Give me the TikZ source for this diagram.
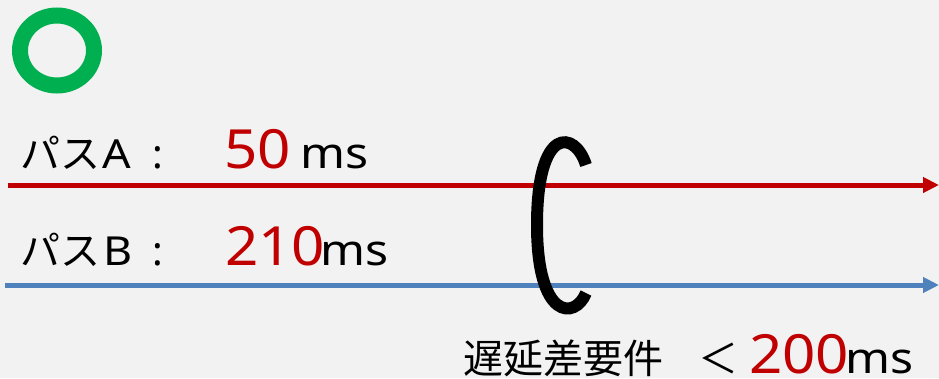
\documentclass[tikz,border=0pt]{standalone}
\usepackage{fontspec}
\setmainfont{Noto Sans}
\newfontfamily\jp{Noto Sans CJK JP}
\newfontfamily\widelatin[FakeStretch=1.12]{Noto Sans}
\newfontfamily\widedigits[FakeStretch=1.08]{Noto Sans}
\usetikzlibrary{arrows.meta}
\definecolor{bg}{HTML}{F2F2F2}
\definecolor{okgreen}{HTML}{00B050}
\definecolor{pathred}{HTML}{C00000}
\definecolor{pathblue}{HTML}{4F81BD}
\tikzset{
  lbl/.style={anchor=base west, inner sep=0pt, font=\jp\fontsize{40}{48}\selectfont},
  letter/.style={anchor=base west, inner sep=0pt, font=\widelatin\fontsize{40}{48}\selectfont},
  colon/.style={anchor=base, inner sep=0pt, font=\fontsize{40}{48}\selectfont},
  num/.style={anchor=base west, inner sep=0pt, text=pathred, font=\widedigits\fontsize{54}{60}\selectfont},
  unit/.style={anchor=base west, inner sep=0pt, font=\widelatin\fontsize{43}{50}\selectfont},
  patharrow/.style={line width=5pt, -{Triangle[length=16pt,width=15pt]}},
}
\begin{document}
\begin{tikzpicture}[x=1pt,y=-1pt]
\fill[bg] (0,0) rectangle (939,378);
\useasboundingbox (0,0) rectangle (939,378);
% green ring
\draw[okgreen, line width=16pt] (57,50.5) ellipse [x radius=37, y radius=35];
% arrows
\coordinate (a1) at (8,185);
\coordinate (a2) at (939,185);
\coordinate (b1) at (5,285);
\coordinate (b2) at (939,285);
\draw[patharrow, pathred] (a1) -- (a2);
\draw[patharrow, pathblue] (b1) -- (b2);
% bracket
\draw[line width=12pt] (586,165) .. controls (575,130) and (537,125) .. (537,225)
  .. controls (537,320) and (575,320) .. (586,293);
% labels
\node[lbl] (la) at (20,168) {パス};
\node[letter] (lA) at (102,168) {A};
\node[colon] (ca) at (158,168) {:};
\node[num] (na) at (224,168) {50};
\node[unit] (ua) at (300,168) {ms};
\node[lbl] (lb) at (20,265) {パス};
\node[letter] (lB) at (103,265) {B};
\node[colon] (cb) at (158,265) {:};
\node[num] (nb) at (225,265) {210};
\node[unit] (ub) at (320,265) {ms};
\node[lbl] (req) at (463,373) {遅延差要件};
\node[lbl, anchor=base] (lt) at (718,373) {＜};
\node[num] (nr) at (749,373) {200};
\node[unit] (ur) at (845,373) {ms};
\end{tikzpicture}
\end{document}
